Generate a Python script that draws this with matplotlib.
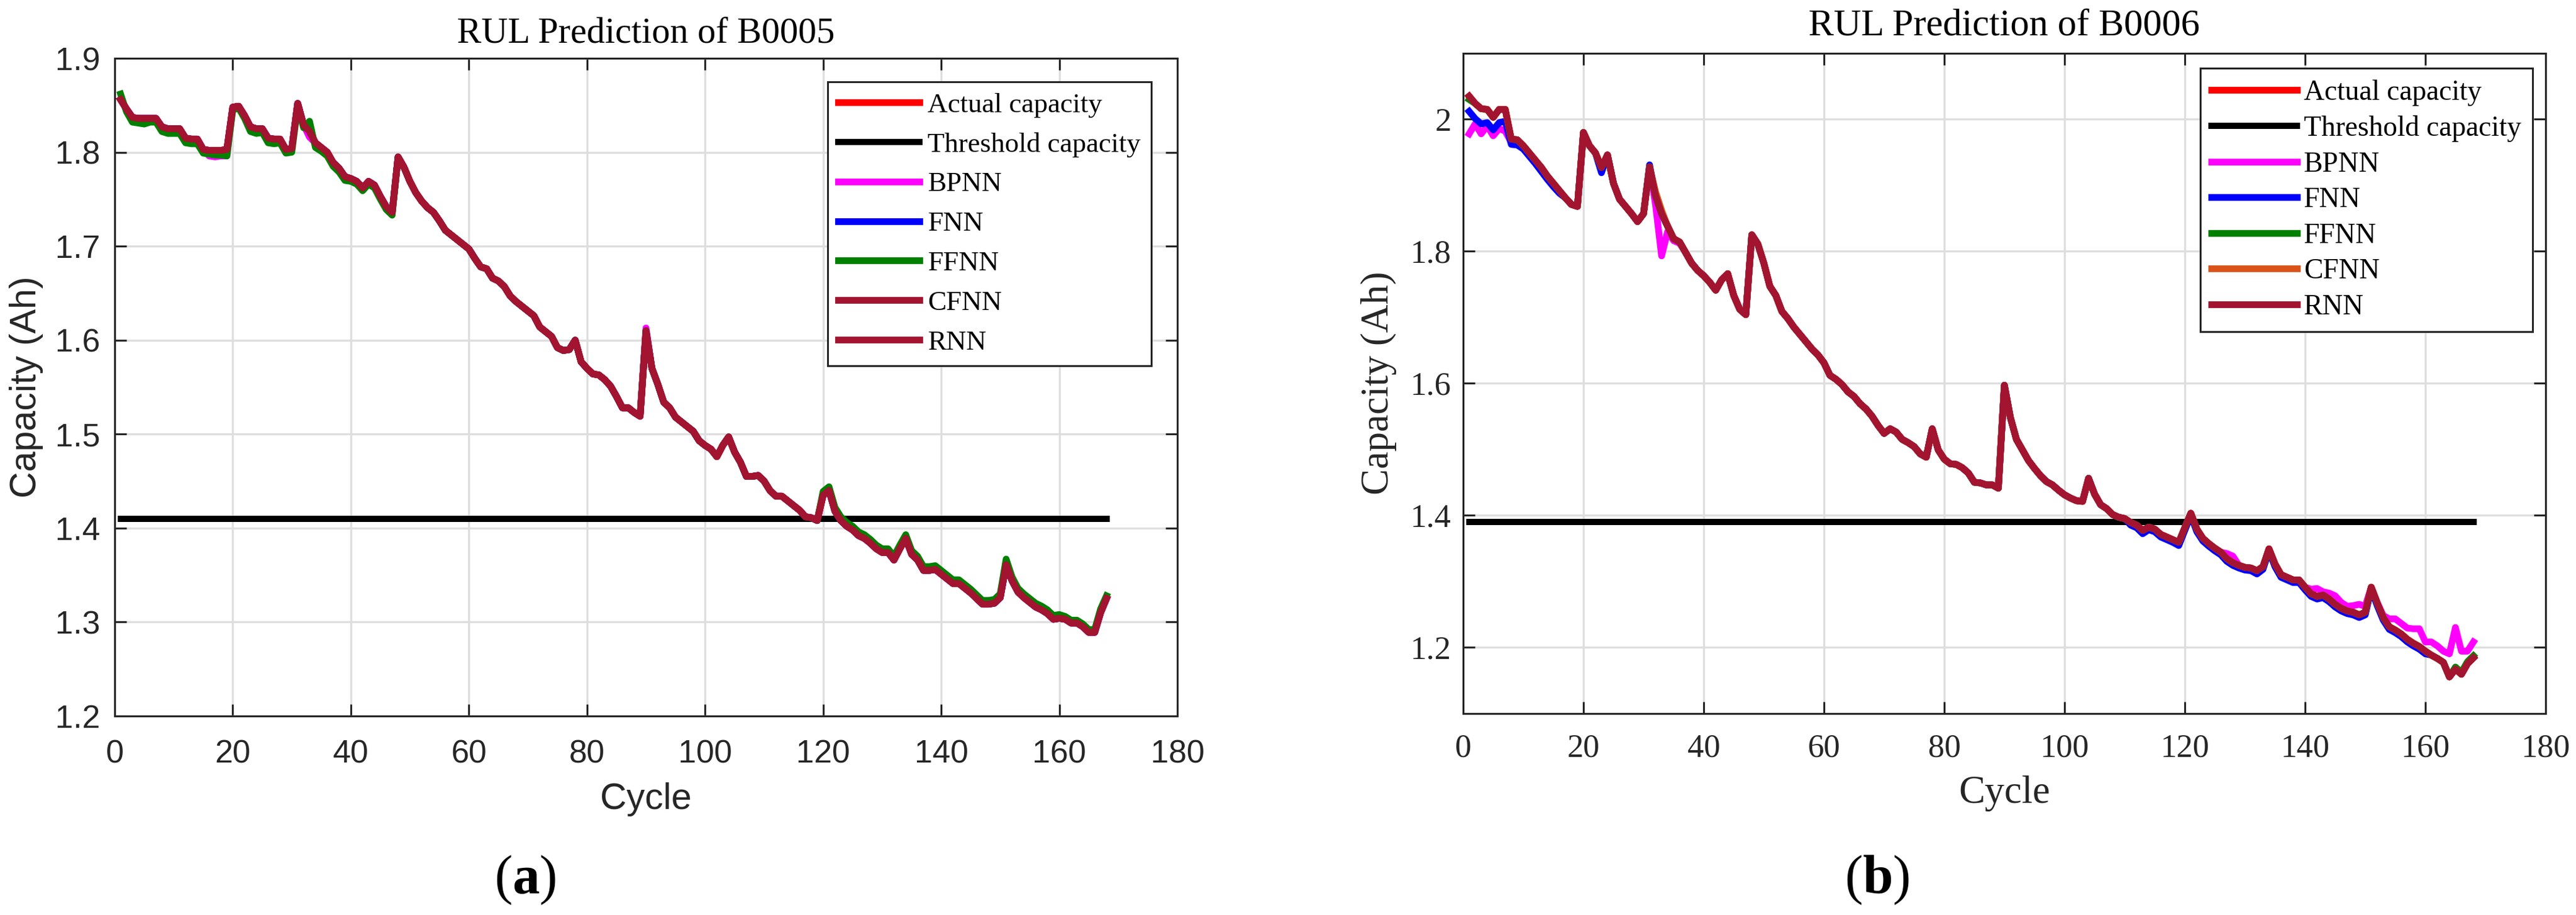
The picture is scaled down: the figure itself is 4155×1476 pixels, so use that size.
import numpy as np
import matplotlib
matplotlib.use('Agg')
import matplotlib.pyplot as plt
from matplotlib.ticker import FormatStrFormatter

plt.rcParams['mathtext.fontset'] = 'custom'
plt.rcParams['mathtext.rm'] = 'Liberation Serif'
plt.rcParams['mathtext.bf'] = 'Liberation Serif:bold'

# ---- data (capacity in Ah, one value per cycle) ----
cycles = np.arange(1, 169)

rnn5 = [1.856, 1.846, 1.837, 1.836, 1.836, 1.836, 1.836, 1.827, 1.825, 1.825,
        1.825, 1.815, 1.814, 1.814, 1.803, 1.802, 1.802, 1.802, 1.803, 1.848,
        1.849, 1.839, 1.827, 1.825, 1.825, 1.815, 1.814, 1.814, 1.803, 1.804,
        1.852, 1.829, 1.822, 1.810, 1.805, 1.800, 1.789, 1.783, 1.774, 1.772,
        1.769, 1.762, 1.769, 1.765, 1.753, 1.742, 1.736, 1.795, 1.784, 1.769,
        1.757, 1.748, 1.741, 1.736, 1.727, 1.717, 1.712, 1.707, 1.702, 1.697,
        1.687, 1.678, 1.676, 1.666, 1.663, 1.657, 1.647, 1.641, 1.636, 1.631,
        1.626, 1.614, 1.609, 1.604, 1.592, 1.589, 1.590, 1.600, 1.577, 1.570,
        1.564, 1.563, 1.558, 1.551, 1.540, 1.528, 1.528, 1.523, 1.519, 1.610,
        1.570, 1.553, 1.534, 1.528, 1.518, 1.513, 1.508, 1.503, 1.493, 1.488,
        1.484, 1.476, 1.488, 1.497, 1.481, 1.470, 1.455, 1.455, 1.456, 1.450,
        1.440, 1.434, 1.434, 1.429, 1.424, 1.419, 1.412, 1.411, 1.408, 1.435,
        1.440, 1.418, 1.408, 1.402, 1.398, 1.392, 1.389, 1.384, 1.378, 1.374,
        1.374, 1.366, 1.378, 1.389, 1.372, 1.366, 1.355, 1.355, 1.356, 1.351,
        1.346, 1.341, 1.341, 1.336, 1.331, 1.325, 1.319, 1.319, 1.320, 1.326,
        1.361, 1.344, 1.332, 1.326, 1.321, 1.316, 1.313, 1.309, 1.303, 1.304,
        1.303, 1.299, 1.299, 1.295, 1.289, 1.289, 1.310, 1.325]

# FFNN on B0005: cycles 1-47 and 120-168 sit a little off the other curves
ffnn5_start = [1.862, 1.843, 1.832, 1.831, 1.830, 1.832, 1.832, 1.822, 1.820, 1.820,
               1.820, 1.810, 1.809, 1.809, 1.799, 1.798, 1.797, 1.797, 1.796, 1.845,
               1.847, 1.836, 1.822, 1.820, 1.821, 1.810, 1.809, 1.810, 1.799, 1.800,
               1.849, 1.826, 1.833, 1.805, 1.801, 1.796, 1.785, 1.779, 1.770, 1.769,
               1.766, 1.759, 1.766, 1.762, 1.750, 1.739, 1.733]
ffnn5_end = [1.439, 1.444, 1.422, 1.412, 1.406, 1.402, 1.396, 1.393, 1.388, 1.382,
             1.378, 1.378, 1.370, 1.382, 1.393, 1.376, 1.370, 1.359, 1.359, 1.360,
             1.355, 1.350, 1.345, 1.345, 1.340, 1.335, 1.329, 1.323, 1.323, 1.324,
             1.330, 1.367, 1.348, 1.336, 1.330, 1.325, 1.320, 1.317, 1.313, 1.307,
             1.308, 1.306, 1.302, 1.302, 1.298, 1.292, 1.292, 1.314, 1.328]

actual5 = list(rnn5)
cfnn5 = list(rnn5)
fnn5 = list(rnn5)
ffnn5 = ffnn5_start + rnn5[47:119] + ffnn5_end
bpnn5 = list(rnn5)
bpnn5[15:19] = [1.796, 1.795, 1.796, 1.796]
bpnn5[32] = 1.816
bpnn5[89] = 1.613

rnn6 = [2.035, 2.024, 2.016, 2.015, 2.003, 2.015, 2.015, 1.970, 1.969, 1.960,
        1.949, 1.938, 1.927, 1.914, 1.903, 1.892, 1.881, 1.871, 1.868, 1.980,
        1.960, 1.949, 1.927, 1.946, 1.903, 1.879, 1.868, 1.857, 1.845, 1.857,
        1.928, 1.884, 1.857, 1.838, 1.819, 1.814, 1.798, 1.782, 1.771, 1.763,
        1.753, 1.741, 1.757, 1.766, 1.733, 1.712, 1.704, 1.825, 1.811, 1.782,
        1.747, 1.733, 1.709, 1.698, 1.685, 1.674, 1.663, 1.652, 1.643, 1.631,
        1.612, 1.606, 1.598, 1.587, 1.580, 1.569, 1.561, 1.550, 1.536, 1.524,
        1.531, 1.526, 1.515, 1.510, 1.504, 1.493, 1.488, 1.531, 1.499, 1.485,
        1.478, 1.477, 1.472, 1.464, 1.450, 1.449, 1.446, 1.446, 1.441, 1.597,
        1.548, 1.515, 1.499, 1.483, 1.471, 1.460, 1.451, 1.446, 1.438, 1.431,
        1.426, 1.422, 1.421, 1.456, 1.432, 1.416, 1.410, 1.401, 1.397, 1.395,
        1.389, 1.385, 1.377, 1.382, 1.379, 1.371, 1.367, 1.363, 1.359, 1.381,
        1.403, 1.379, 1.365, 1.357, 1.350, 1.344, 1.334, 1.328, 1.324, 1.321,
        1.320, 1.316, 1.322, 1.349, 1.326, 1.310, 1.306, 1.302, 1.302, 1.291,
        1.281, 1.277, 1.279, 1.273, 1.265, 1.259, 1.255, 1.253, 1.249, 1.253,
        1.291, 1.267, 1.245, 1.231, 1.226, 1.220, 1.212, 1.206, 1.201, 1.194,
        1.188, 1.183, 1.177, 1.155, 1.167, 1.159, 1.175, 1.184]

actual6 = list(rnn6)
bpnn6 = list(rnn6)
bpnn6[0:8] = [1.978, 1.993, 1.978, 1.990, 1.975, 1.986, 1.982, 1.965]
bpnn6[31:36] = [1.870, 1.793, 1.830, 1.816, 1.812]
bpnn6[126:128] = [1.342, 1.338]
bpnn6[140:168] = [1.288, 1.289, 1.284, 1.282, 1.278, 1.268, 1.262, 1.263, 1.265,
                  1.262, 1.291, 1.268, 1.248, 1.243, 1.243, 1.236, 1.229, 1.228,
                  1.228, 1.208, 1.208, 1.202, 1.194, 1.190, 1.230, 1.194, 1.194,
                  1.208]
fnn6 = list(rnn6)
fnn6[0:16] = [2.012, 2.001, 1.993, 1.995, 1.984, 1.995, 1.997, 1.962, 1.961, 1.955,
              1.944, 1.933, 1.921, 1.909, 1.898, 1.888]
fnn6[22] = 1.919
fnn6[30] = 1.931
fnn6[110:160] = [1.385, 1.381, 1.372, 1.378, 1.375, 1.367, 1.363, 1.359, 1.354, 1.377,
                 1.400, 1.375, 1.361, 1.353, 1.346, 1.340, 1.330, 1.324, 1.320, 1.317,
                 1.316, 1.311, 1.318, 1.346, 1.322, 1.306, 1.302, 1.298, 1.298, 1.287,
                 1.277, 1.273, 1.275, 1.269, 1.261, 1.255, 1.251, 1.249, 1.245, 1.249,
                 1.288, 1.263, 1.241, 1.227, 1.222, 1.216, 1.208, 1.202, 1.197, 1.190]
ffnn6 = list(rnn6)
ffnn6[0] = 2.030
ffnn6[164:168] = [1.170, 1.162, 1.178, 1.187]
cfnn6 = list(rnn6)
cfnn6[31:33] = [1.890, 1.862]

threshold5 = 1.41
threshold6 = 1.39

labels = ['Actual capacity', 'Threshold capacity', 'BPNN', 'FNN', 'FFNN', 'CFNN', 'RNN']

# ---- figure ----
W, H = 4155, 1476
fig = plt.figure(figsize=(W / 100, H / 100), dpi=100)
INK = '#262626'
SERIF = 'Liberation Serif'
SANS = 'Liberation Sans'


def px_axes(x0, x1, top, bottom):
    return fig.add_axes([x0 / W, 1 - bottom / H, (x1 - x0) / W, (bottom - top) / H])


def draw(ax, series, thr, cf_color):
    cols = ['#FF0000', '#FF00FF', '#0000FF', '#008000', cf_color, '#A2142F']
    ax.plot(cycles, series[0], color=cols[0], lw=7.8, label=labels[0])
    ax.plot([cycles[0], cycles[-1]], [thr, thr], color='k', lw=7.2, label=labels[1])
    for s, c, lab in zip(series[1:], cols[1:], labels[2:]):
        ax.plot(cycles, s, color=c, lw=7.8, label=lab)


def style(ax, tick_font, tick_size, xpad, ypad):
    for s in ax.spines.values():
        s.set_linewidth(2.2)
        s.set_color(INK)
    ax.tick_params(direction='in', length=13.7, width=2.2, top=True, right=True,
                   colors=INK)
    ax.tick_params(axis='x', pad=xpad)
    ax.tick_params(axis='y', pad=ypad)
    ax.grid(True, color='#dedede', linewidth=2.4)
    ax.set_axisbelow(True)
    ax.set_xlim(0, 180)
    ax.set_xticks(np.arange(0, 181, 20))
    ax.yaxis.set_major_formatter(FormatStrFormatter('%g'))
    for lbl in ax.get_xticklabels() + ax.get_yticklabels():
        lbl.set_fontfamily(tick_font)
        lbl.set_fontsize(tick_size)


# (a) B0005
ax1 = px_axes(185, 1899, 94, 1155)
draw(ax1, [actual5, bpnn5, fnn5, ffnn5, cfnn5, rnn5], threshold5, '#A2142F')
ax1.set_ylim(1.2, 1.9)
ax1.set_yticks(np.round(np.arange(1.2, 1.91, 0.1), 1))
style(ax1, SANS, 37.5, 27, 17)
ax1.set_xlabel('Cycle', fontfamily=SANS, fontsize=42.5, color=INK, va='center')
ax1.xaxis.set_label_coords(0.5, -0.127)
ax1.set_ylabel('Capacity (Ah)', fontfamily=SANS, fontsize=42.5, color=INK, va='center')
ax1.yaxis.set_label_coords(-0.0834, 0.5)
ax1.text(0.5, 1.0236, 'RUL Prediction of B0005', transform=ax1.transAxes,
         ha='center', va='baseline', fontfamily=SERIF, fontsize=42.5)
leg1 = ax1.legend(loc='upper right', bbox_to_anchor=(1857 / W, 1 - 132 / H),
                  bbox_transform=fig.transFigure, prop={'family': SERIF, 'size': 32.4},
                  fancybox=False, edgecolor=INK, framealpha=1, borderpad=0.38,
                  labelspacing=0.52, handlelength=2.9, handletextpad=0.3,
                  borderaxespad=0)
leg1.get_frame().set_linewidth(2.2)

# (b) B0006
ax2 = px_axes(2360, 4106, 86, 1150.5)
draw(ax2, [actual6, bpnn6, fnn6, ffnn6, cfnn6, rnn6], threshold6, '#D95319')
ax2.set_ylim(1.1, 2.1)
ax2.set_yticks(np.round(np.arange(1.2, 2.01, 0.2), 1))
style(ax2, SERIF, 38, 24, 14)
ax2.set_xlabel('Cycle', fontfamily=SERIF, fontsize=45.5, color=INK, va='center')
ax2.xaxis.set_label_coords(0.5, -0.1217)
ax2.set_ylabel('Capacity (Ah)', fontfamily=SERIF, fontsize=45.5, color=INK, va='center')
ax2.yaxis.set_label_coords(-0.078, 0.5)
ax2.text(0.5, 1.0273, 'RUL Prediction of B0006', transform=ax2.transAxes,
         ha='center', va='baseline', fontfamily=SERIF, fontsize=44)
leg2 = ax2.legend(loc='upper right', bbox_to_anchor=(4085 / W, 1 - 110 / H),
                  bbox_transform=fig.transFigure, prop={'family': SERIF, 'size': 33},
                  fancybox=False, edgecolor=INK, framealpha=1, borderpad=0.4,
                  labelspacing=0.33, handlelength=3.0, handletextpad=0.25,
                  borderaxespad=0)
leg2.get_frame().set_linewidth(2.2)

fig.text(847 / W, 1 - 1420 / H, r'($\mathbf{a}$)', ha='center', va='center',
         fontfamily=SERIF, fontsize=63)
fig.text(3028 / W, 1 - 1420 / H, r'($\mathbf{b}$)', ha='center', va='center',
         fontfamily=SERIF, fontsize=63)

fig.savefig('out.png', dpi=100)
